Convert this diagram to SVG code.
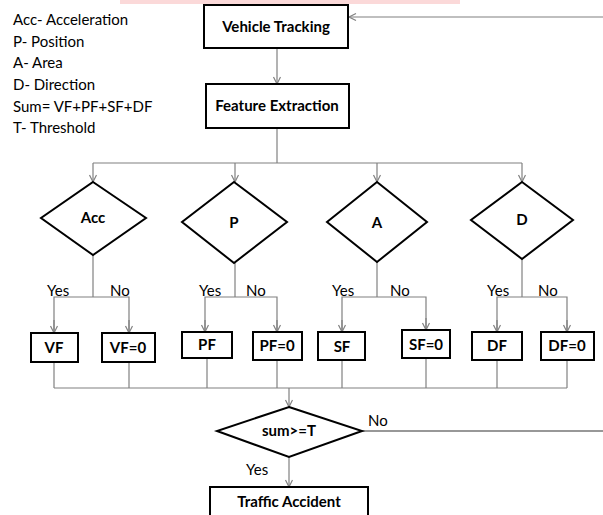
<svg xmlns="http://www.w3.org/2000/svg" width="603" height="515" viewBox="0 0 603 515">
<style>
.box{fill:#fff;stroke:#000;stroke-width:2}
.dia{fill:#fff;stroke:#000;stroke-width:2}
.c{fill:none;stroke:#808080;stroke-width:1.2}
.cd{fill:none;stroke:#333;stroke-width:1.2}
.t{font-family:Lato,"Liberation Sans",sans-serif;font-size:15px;fill:#000}
.b{font-family:Lato,"Liberation Sans",sans-serif;font-size:15px;font-weight:bold;fill:#000;text-anchor:middle}
.l{font-family:Lato,"Liberation Sans",sans-serif;font-size:15px;fill:#000}
</style>
<defs>
<marker id="ar" markerUnits="userSpaceOnUse" markerWidth="10" markerHeight="10" refX="8" refY="4" orient="auto">
<path d="M1,0.5 L8,4 L1,7.5" fill="none" stroke="#808080" stroke-width="1.2"/>
</marker>
</defs>
<rect x="120" y="0" width="340" height="4" fill="#fbd9d9"/>
<g id="legend">
<text class="t" x="13" y="25">Acc- Acceleration</text>
<text class="t" x="13" y="47">P- Position</text>
<text class="t" x="13" y="68">A- Area</text>
<text class="t" x="13" y="90">D- Direction</text>
<text class="t" x="13" y="112">Sum= VF+PF+SF+DF</text>
<text class="t" x="13" y="133">T- Threshold</text>
</g>
<g id="connectors">
<line class="c" x1="603" y1="17" x2="349" y2="17" marker-end="url(#ar)"/>
<line class="c" x1="277" y1="48" x2="277" y2="84" marker-end="url(#ar)"/>
<line class="c" x1="277" y1="128" x2="277" y2="163"/>
<line class="c" x1="93" y1="163" x2="522" y2="163"/>
<line class="c" x1="93" y1="163" x2="93" y2="182" marker-end="url(#ar)"/>
<line class="c" x1="235" y1="163" x2="235" y2="182" marker-end="url(#ar)"/>
<line class="c" x1="377" y1="163" x2="377" y2="182" marker-end="url(#ar)"/>
<line class="c" x1="522" y1="163" x2="522" y2="182" marker-end="url(#ar)"/>
<line class="c" x1="93" y1="255" x2="93" y2="297"/>
<polyline class="c" points="54,333 54,297 129,297 129,333"/>
<line class="c" x1="54" y1="320" x2="54" y2="333" marker-end="url(#ar)"/>
<line class="c" x1="129" y1="320" x2="129" y2="333" marker-end="url(#ar)"/>
<line class="c" x1="235" y1="263" x2="235" y2="297"/>
<polyline class="c" points="205,332 205,297 277,297 277,332"/>
<line class="c" x1="205" y1="320" x2="205" y2="332" marker-end="url(#ar)"/>
<line class="c" x1="277" y1="320" x2="277" y2="332" marker-end="url(#ar)"/>
<line class="c" x1="377" y1="262" x2="377" y2="297"/>
<polyline class="c" points="342,332 342,297 426,297 426,330"/>
<line class="c" x1="342" y1="320" x2="342" y2="332" marker-end="url(#ar)"/>
<line class="c" x1="426" y1="318" x2="426" y2="330" marker-end="url(#ar)"/>
<line class="c" x1="522" y1="259" x2="522" y2="297"/>
<polyline class="c" points="497,332 497,297 567,297 567,332"/>
<line class="c" x1="497" y1="320" x2="497" y2="332" marker-end="url(#ar)"/>
<line class="c" x1="567" y1="320" x2="567" y2="332" marker-end="url(#ar)"/>
<line class="c" x1="54" y1="362" x2="54" y2="388"/>
<line class="c" x1="129" y1="362" x2="129" y2="388"/>
<line class="c" x1="207" y1="358" x2="207" y2="388"/>
<line class="c" x1="277" y1="360" x2="277" y2="388"/>
<line class="c" x1="342" y1="360" x2="342" y2="388"/>
<line class="c" x1="426" y1="358" x2="426" y2="388"/>
<line class="c" x1="497" y1="360" x2="497" y2="388"/>
<line class="c" x1="567" y1="360" x2="567" y2="388"/>
<line class="c" x1="54" y1="388" x2="567" y2="388"/>
<line class="c" x1="289" y1="388" x2="289" y2="407" marker-end="url(#ar)"/>
<line class="cd" x1="362" y1="431" x2="603" y2="431"/>
<line class="c" x1="289" y1="457" x2="289" y2="487" marker-end="url(#ar)"/>
<text class="l" x="47" y="296">Yes</text>
<text class="l" x="110" y="296">No</text>
<text class="l" x="199" y="296">Yes</text>
<text class="l" x="246" y="296">No</text>
<text class="l" x="332" y="296">Yes</text>
<text class="l" x="390" y="296">No</text>
<text class="l" x="487" y="296">Yes</text>
<text class="l" x="538" y="296">No</text>
<text class="l" x="368" y="426">No</text>
<text class="l" x="246" y="475">Yes</text>
</g>
<g id="vehicle-tracking"><rect class="box" x="204" y="5" width="144" height="43"/><text class="b" x="276" y="32">Vehicle Tracking</text></g>
<g id="feature-extraction"><rect class="box" x="206" y="84" width="143" height="44"/><text class="b" x="277" y="111">Feature Extraction</text></g>
<g id="acc"><polygon class="dia" points="93,182 146,218 93,255 41,218"/><text class="b" x="93" y="223">Acc</text></g>
<g id="p"><polygon class="dia" points="234,182 287,222 234,263 182,222"/><text class="b" x="234" y="228">P</text></g>
<g id="a"><polygon class="dia" points="377,182 427,222 377,262 327,222"/><text class="b" x="377" y="228">A</text></g>
<g id="d"><polygon class="dia" points="522,182 573,220 522,259 471,220"/><text class="b" x="522" y="225">D</text></g>
<g id="vf"><rect class="box" x="31" y="333" width="47" height="29"/><text class="b" x="54" y="353">VF</text></g>
<g id="vf0"><rect class="box" x="102" y="333" width="53" height="29"/><text class="b" x="128" y="353">VF=0</text></g>
<g id="pf"><rect class="box" x="182" y="332" width="50" height="26"/><text class="b" x="207" y="350">PF</text></g>
<g id="pf0"><rect class="box" x="253" y="332" width="49" height="28"/><text class="b" x="277" y="351">PF=0</text></g>
<g id="sf"><rect class="box" x="318" y="332" width="47" height="28"/><text class="b" x="342" y="352">SF</text></g>
<g id="sf0"><rect class="box" x="402" y="330" width="48" height="28"/><text class="b" x="426" y="350">SF=0</text></g>
<g id="df"><rect class="box" x="472" y="332" width="50" height="28"/><text class="b" x="497" y="351">DF</text></g>
<g id="df0"><rect class="box" x="541" y="332" width="53" height="28"/><text class="b" x="567" y="351">DF=0</text></g>
<g id="sum"><polygon class="dia" points="289,407 362,431 289,457 217,431"/><text class="b" x="289" y="436">sum&gt;=T</text></g>
<g id="traffic-accident"><rect class="box" x="210" y="487" width="158" height="40"/><text class="b" x="289" y="507">Traffic Accident</text></g>
</svg>
